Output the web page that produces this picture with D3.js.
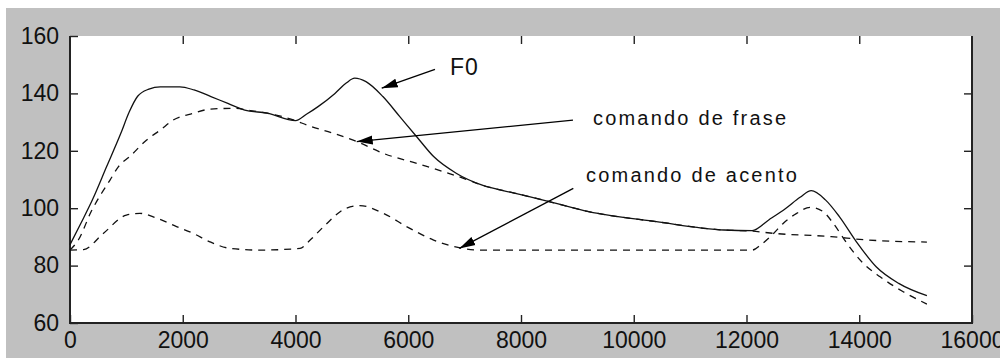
<!DOCTYPE html>
<html>
<head>
<meta charset="utf-8">
<script src="https://cdn.jsdelivr.net/npm/d3@7"></script>
<style>
  html, body { margin: 0; padding: 0; background: #fff; }
  svg { display: block; }
  .tick text { font-family: "Liberation Sans", Arial, sans-serif; fill: #111; }
  .note { font-family: "Liberation Sans", Arial, sans-serif; fill: #111; }
</style>
</head>
<body>
<svg id="chart"></svg>
<script>
// F0 contour (solid), Hz over time (samples)
const f0X = [0, 200, 400, 650, 900, 1050, 1200, 1400, 1600, 1950, 2200, 2500, 2800, 3100, 3500, 4000,
  4200, 4400, 4700, 4900, 5050, 5250, 5550, 5850, 6150, 6450, 6850, 7300, 7900, 8500, 9200, 10400, 11600,
  12100, 12400, 12700, 12950, 13150, 13400, 13650, 13950, 14300, 14700, 15200];
const f0Y = [87.3, 95, 103, 114.5, 126, 133.5, 139, 141.5, 142.3, 142.3, 141.2, 138.9, 136.5, 134.2, 133.1, 130.5,
  132.8, 135.4, 140, 143.6, 145.3, 144.1, 138.9, 131.9, 124.9, 118, 112.2, 108.1, 105.2, 102.3, 98.8, 95.3, 92.4,
  92.2, 96, 100, 103.8, 106.1, 102.9, 97, 88.3, 79.6, 73.8, 69.5];

// comando de frase (dashed, upper)
const phraseX = [0, 150, 380, 560, 710, 860, 1060, 1360, 1600, 1830, 2190, 2480, 2900, 3200, 3500, 4000,
  4200, 4670, 5090, 5560, 6150, 6980, 7300, 7900, 8500, 9200, 10400, 11600, 12100, 12500, 13500, 14100, 15200];
const phraseY = [85.4, 89, 99, 105.2, 109.8, 114.5, 118, 123.8, 127.2, 130.7, 133.1, 134.5, 134.8, 134, 133.1, 130.5,
  129, 126.1, 123.2, 119.1, 115.6, 110.4, 108.1, 105.2, 102.3, 98.8, 95.3, 92.4, 92, 91.2, 90.1, 89, 88.2];

// comando de acento (dashed, lower)
const accentX = [0, 240, 590, 1000, 1240, 1540, 1890, 2190, 2480, 2840, 3370, 4080, 4260, 4500, 4900, 5140,
  5560, 5970, 6450, 6860, 7270, 12100, 12250, 12480, 12650, 12890, 13130, 13360, 13540, 13780, 14070, 14370, 14780, 15200];
const accentY = [85.4, 85.6, 91.2, 97.6, 98.2, 96.5, 93.6, 91.2, 88.3, 86, 85.4, 86, 88.9, 93.6, 100, 100.9,
  98.2, 93.6, 88.9, 86.4, 85.4, 85.4, 87.2, 91.2, 94.7, 98.2, 100.3, 98.8, 94.7, 87.8, 80.8, 76.1, 70.9, 66.6];

const xTicks = [0, 2000, 4000, 6000, 8000, 10000, 12000, 14000, 16000];
const yTicks = [60, 80, 100, 120, 140, 160];

// annotation labels and arrows, in data units
const noteLabels = ["F0", "comando de frase", "comando de acento"];
const noteTextX = [6741, 9277, 9153];
const noteTextY = [146.4, 129, 109.1];
const arrowFromX = [6474, 8922, 8928];
const arrowFromY = [148.4, 130.7, 106.9];
const arrowToX = [5529, 5086, 6906];
const arrowToY = [141.8, 123.2, 86];

const width = 1000, height = 359;
const margin = { top: 36, right: 28, bottom: 36, left: 70 };

const svg = d3.select("#chart").attr("width", width).attr("height", height);

svg.append("rect").attr("x", 6).attr("y", 8).attr("width", width - 6).attr("height", height - 9)
  .attr("fill", "#c0c0c0");

const x = d3.scaleLinear().domain([0, 16000]).range([margin.left, width - margin.right]);
const y = d3.scaleLinear().domain([60, 160]).range([height - margin.bottom, margin.top]);

svg.append("rect")
  .attr("x", x(0)).attr("y", y(160))
  .attr("width", x(16000) - x(0)).attr("height", y(60) - y(160))
  .attr("fill", "#fff");

function styleAxis(g, showText) {
  g.select(".domain").remove();
  g.selectAll(".tick line").attr("stroke", "#222").attr("stroke-width", 1.4);
  if (!showText) g.selectAll(".tick text").remove();
  else g.selectAll(".tick text").style("font-size", "23px");
}

svg.append("g")
  .attr("transform", `translate(0,${y(60)})`)
  .call(d3.axisBottom(x).tickValues(xTicks).tickFormat(d3.format("d")).tickSizeInner(-8).tickSizeOuter(0).tickPadding(9))
  .call(g => styleAxis(g, true));

svg.append("g")
  .attr("transform", `translate(0,${y(160)})`)
  .call(d3.axisTop(x).tickValues(xTicks.slice(1, -1)).tickSizeInner(-8).tickSizeOuter(0))
  .call(g => styleAxis(g, false));

svg.append("g")
  .attr("transform", `translate(${x(0)},0)`)
  .call(d3.axisLeft(y).tickValues(yTicks).tickSizeInner(-8).tickSizeOuter(0).tickPadding(11))
  .call(g => styleAxis(g, true));

svg.append("g")
  .attr("transform", `translate(${x(16000)},0)`)
  .call(d3.axisRight(y).tickValues(yTicks.slice(1, -1)).tickSizeInner(-8).tickSizeOuter(0))
  .call(g => styleAxis(g, false));

// box lines: left, bottom, right
svg.append("path")
  .attr("d", `M${x(0)},${y(160)}V${y(60)}H${x(16000)}V${y(160)}`)
  .attr("fill", "none").attr("stroke", "#222").attr("stroke-width", 2);

const line = d3.line().x(d => x(d[0])).y(d => y(d[1])).curve(d3.curveMonotoneX);

svg.append("path").datum(d3.zip(phraseX, phraseY))
  .attr("d", line).attr("fill", "none").attr("stroke", "#111")
  .attr("stroke-width", 1.3).attr("stroke-dasharray", "7,6");

svg.append("path").datum(d3.zip(accentX, accentY))
  .attr("d", line).attr("fill", "none").attr("stroke", "#111")
  .attr("stroke-width", 1.3).attr("stroke-dasharray", "7,6");

svg.append("path").datum(d3.zip(f0X, f0Y))
  .attr("d", line).attr("fill", "none").attr("stroke", "#111").attr("stroke-width", 1.3);

svg.append("defs").append("marker")
  .attr("id", "head")
  .attr("viewBox", "0 0 16 10")
  .attr("refX", 16).attr("refY", 5)
  .attr("markerUnits", "userSpaceOnUse")
  .attr("markerWidth", 16).attr("markerHeight", 10)
  .attr("orient", "auto")
  .append("path").attr("d", "M0,0.5L16,5L0,9.5Z").attr("fill", "#000");

svg.selectAll(".arrow")
  .data(d3.range(noteLabels.length))
  .enter().append("line")
  .attr("class", "arrow")
  .attr("x1", i => x(arrowFromX[i])).attr("y1", i => y(arrowFromY[i]))
  .attr("x2", i => x(arrowToX[i])).attr("y2", i => y(arrowToY[i]))
  .attr("stroke", "#000").attr("stroke-width", 1.3)
  .attr("marker-end", "url(#head)");

svg.selectAll(".note")
  .data(d3.range(noteLabels.length))
  .enter().append("text")
  .attr("class", "note")
  .attr("x", i => x(noteTextX[i])).attr("y", i => y(noteTextY[i]))
  .style("font-size", i => i === 0 ? "23px" : "20px")
  .style("letter-spacing", i => i === 0 ? "1px" : "2.2px")
  .text(i => noteLabels[i]);
</script>
</body>
</html>
